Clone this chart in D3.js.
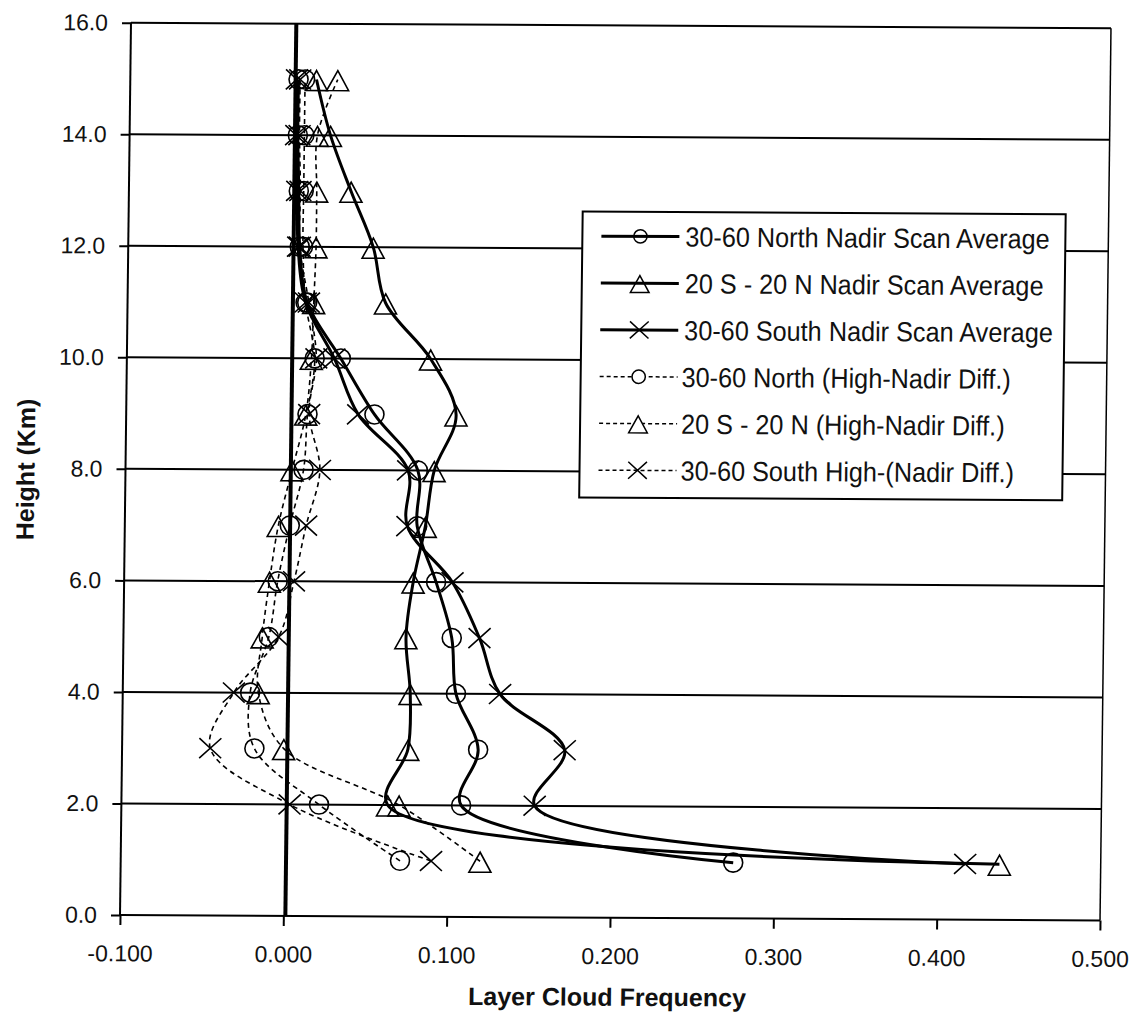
<!DOCTYPE html>
<html>
<head>
<meta charset="utf-8">
<script src="https://cdn.jsdelivr.net/npm/d3@7"></script>
<style>
  body { margin: 0; background: #fff; }
  svg { display: block; font-family: "Liberation Sans", Arial, sans-serif; }
</style>
</head>
<body>
<div id="chart"></div>
<script>
// heights (km) and layer cloud frequencies
const heights = [1, 2, 3, 4, 5, 6, 7, 8, 9, 10, 11, 12, 13, 14, 15];

const northNadir = [0.275, 0.108, 0.118, 0.104, 0.101, 0.091, 0.079, 0.079, 0.052, 0.031, 0.010, 0.005, 0.004, 0.003, 0.003];
const tropNadir  = [0.438, 0.063, 0.075, 0.076, 0.073, 0.077, 0.084, 0.089, 0.102, 0.086, 0.058, 0.050, 0.036, 0.023, 0.014];
const southNadir = [0.417, 0.153, 0.171, 0.131, 0.118, 0.101, 0.073, 0.073, 0.042, 0.027, 0.009, 0.004, 0.003, 0.002, 0.002];
const northDiff  = [0.071, 0.021, -0.019, -0.022, -0.011, -0.006, 0.001, 0.009, 0.011, 0.015, 0.009, 0.007, 0.007, 0.007, 0.007];
const tropDiff   = [0.120, 0.070, -0.001, -0.017, -0.015, -0.011, -0.006, 0.002, 0.010, 0.013, 0.014, 0.015, 0.015, 0.015, 0.027];
const southDiff  = [0.090, 0.003, -0.046, -0.032, -0.005, 0.004, 0.011, 0.019, 0.012, 0.016, 0.011, 0.005, 0.005, 0.004, 0.004];

const seriesNames = [
  '30-60 North Nadir Scan Average',
  '20 S - 20 N Nadir Scan Average',
  '30-60 South Nadir Scan Average',
  '30-60 North (High-Nadir Diff.)',
  '20 S - 20 N (High-Nadir Diff.)',
  '30-60 South High-(Nadir Diff.)',
];
const seriesMarkers = ['circle', 'triangle', 'cross', 'circle', 'triangle', 'cross'];
const seriesDashed = [false, false, false, true, true, true];
const seriesValues = [northNadir, tropNadir, southNadir, northDiff, tropDiff, southDiff];

const xTicks = [-0.1, 0, 0.1, 0.2, 0.3, 0.4, 0.5];
const yTicks = [0, 2, 4, 6, 8, 10, 12, 14, 16];

const W = 1133;
const H = 1015;
const PLOT = { left: 120, right: 1100, top: 22.7, bottom: 915 };

const x = d3.scaleLinear().domain([-0.1, 0.5]).range([PLOT.left, PLOT.right]);
const y = d3.scaleLinear().domain([0, 16]).range([PLOT.bottom, PLOT.top]);

const svg = d3.select('#chart').append('svg')
  .attr('width', W)
  .attr('height', H)
  .attr('viewBox', `0 0 ${W} ${H}`);

svg.append('rect').attr('width', W).attr('height', H).attr('fill', '#fff');

// the original is a slightly skewed scan; reproduce the tilt
const g = svg.append('g')
  .attr('transform', 'matrix(1,0.0056,-0.0123,1,11.27,-0.67)');

// horizontal gridlines (top one doubles as the frame)
g.append('g').selectAll('line')
  .data(yTicks.filter((d) => d > 0))
  .join('line')
  .attr('x1', PLOT.left).attr('x2', PLOT.right)
  .attr('y1', (d) => y(d)).attr('y2', (d) => y(d))
  .attr('stroke', '#000').attr('stroke-width', 2);

// frame: right border, left axis, bottom axis
g.append('line')
  .attr('x1', PLOT.right).attr('x2', PLOT.right)
  .attr('y1', PLOT.top).attr('y2', PLOT.bottom)
  .attr('stroke', '#000').attr('stroke-width', 1.5);
g.append('line')
  .attr('x1', PLOT.left).attr('x2', PLOT.left)
  .attr('y1', PLOT.top).attr('y2', PLOT.bottom)
  .attr('stroke', '#000').attr('stroke-width', 2);
g.append('line')
  .attr('x1', PLOT.left).attr('x2', PLOT.right)
  .attr('y1', PLOT.bottom).attr('y2', PLOT.bottom)
  .attr('stroke', '#000').attr('stroke-width', 2);

// axes (plain hyphen for negatives, as in the original)
const fmtX = (d) => d3.format('.3f')(d).replace('\u2212', '-');
const yAxis = g.append('g')
  .attr('transform', `translate(${PLOT.left},0)`)
  .call(d3.axisLeft(y).tickValues(yTicks).tickFormat(d3.format('.1f')).tickSize(9).tickPadding(14));
const xAxis = g.append('g')
  .attr('transform', `translate(0,${PLOT.bottom})`)
  .call(d3.axisBottom(x).tickValues(xTicks).tickFormat(fmtX).tickSize(10).tickPadding(20));

[yAxis, xAxis].forEach((a) => {
  a.select('.domain').remove();
  a.selectAll('.tick line').attr('stroke', '#000').attr('stroke-width', 2);
  a.selectAll('.tick text')
    .attr('fill', '#111')
    .attr('font-size', 23)
    .attr('font-family', '"Liberation Sans", Arial, sans-serif');
});

// thick zero line
g.append('line')
  .attr('x1', x(0) + 2).attr('x2', x(0) + 2)
  .attr('y1', PLOT.top).attr('y2', PLOT.bottom)
  .attr('stroke', '#000').attr('stroke-width', 4);

// axis titles
g.append('text')
  .attr('x', 608).attr('y', 1003)
  .attr('text-anchor', 'middle')
  .attr('font-size', 25).attr('font-weight', 'bold')
  .attr('fill', '#111')
  .text('Layer Cloud Frequency');

g.append('text')
  .attr('transform', 'translate(29,470) rotate(-90)')
  .attr('text-anchor', 'middle')
  .attr('font-size', 25).attr('font-weight', 'bold')
  .attr('fill', '#111')
  .text('Height (Km)');

function drawMarker(sel, type, cx, cy, s) {
  if (type === 'circle') {
    sel.append('circle').attr('cx', cx).attr('cy', cy).attr('r', 9.5 * s);
  } else if (type === 'triangle') {
    sel.append('path')
      .attr('d', `M${cx},${cy - 9 * s}L${cx + 11 * s},${cy + 11 * s}L${cx - 11 * s},${cy + 11 * s}Z`);
  } else {
    sel.append('path')
      .attr('d', `M${cx - 11 * s},${cy - 10 * s}L${cx + 11 * s},${cy + 10 * s}M${cx + 11 * s},${cy - 10 * s}L${cx - 11 * s},${cy + 10 * s}`);
  }
}

// smoothed lines; centripetal spline keeps the knee at 2 km tight
const line = d3.line()
  .x((d) => x(d.v))
  .y((d) => y(d.h))
  .curve(d3.curveCatmullRom.alpha(0.5));

const series = seriesNames.map((name, i) => ({
  name,
  marker: seriesMarkers[i],
  dashed: seriesDashed[i],
  points: heights.map((h, j) => ({ h, v: seriesValues[i][j] })),
}));

// lines first, markers over them (dashed diffs drawn under the averages)
const drawOrder = [3, 4, 5, 0, 1, 2];
drawOrder.forEach((i) => {
  const s = series[i];
  g.append('path')
    .datum(s.points)
    .attr('d', line)
    .attr('fill', 'none')
    .attr('stroke', '#000')
    .attr('stroke-width', s.dashed ? 1.6 : 3)
    .attr('stroke-dasharray', s.dashed ? '5,4' : null)
    .attr('stroke-linejoin', 'round');
});

drawOrder.forEach((i) => {
  const s = series[i];
  const mg = g.append('g')
    .attr('fill', 'none')
    .attr('stroke', '#000')
    .attr('stroke-width', 1.6);
  s.points.forEach((p) => drawMarker(mg, s.marker, x(p.v), y(p.h), 1));
});

// legend
const LEG = { x: 574, y: 209, w: 483, h: 286, row0: 233.5, rowStep: 46.8 };
const leg = g.append('g');
leg.append('rect')
  .attr('x', LEG.x).attr('y', LEG.y)
  .attr('width', LEG.w).attr('height', LEG.h)
  .attr('fill', '#fff')
  .attr('stroke', '#000').attr('stroke-width', 2);

series.forEach((s, i) => {
  const cy = LEG.row0 + i * LEG.rowStep;
  leg.append('line')
    .attr('x1', LEG.x + 19).attr('x2', LEG.x + 97)
    .attr('y1', cy).attr('y2', cy)
    .attr('stroke', '#000')
    .attr('stroke-width', s.dashed ? 1.5 : 3)
    .attr('stroke-dasharray', s.dashed ? '4,3' : null);
  const mg = leg.append('g')
    .attr('fill', s.dashed ? '#fff' : 'none')
    .attr('stroke', '#000')
    .attr('stroke-width', 1.5);
  drawMarker(mg, s.marker, LEG.x + 58, cy, s.marker === 'circle' ? 0.7 : 0.85);
  // scanned legend type is a touch taller than it is wide
  leg.append('text')
    .attr('transform', `translate(${LEG.x + (s.dashed ? 101 : 103)},${cy}) scale(1.01,1.1)`)
    .attr('dy', '0.36em')
    .attr('font-size', 25)
    .attr('fill', '#111')
    .text(s.name);
});
</script>
</body>
</html>
